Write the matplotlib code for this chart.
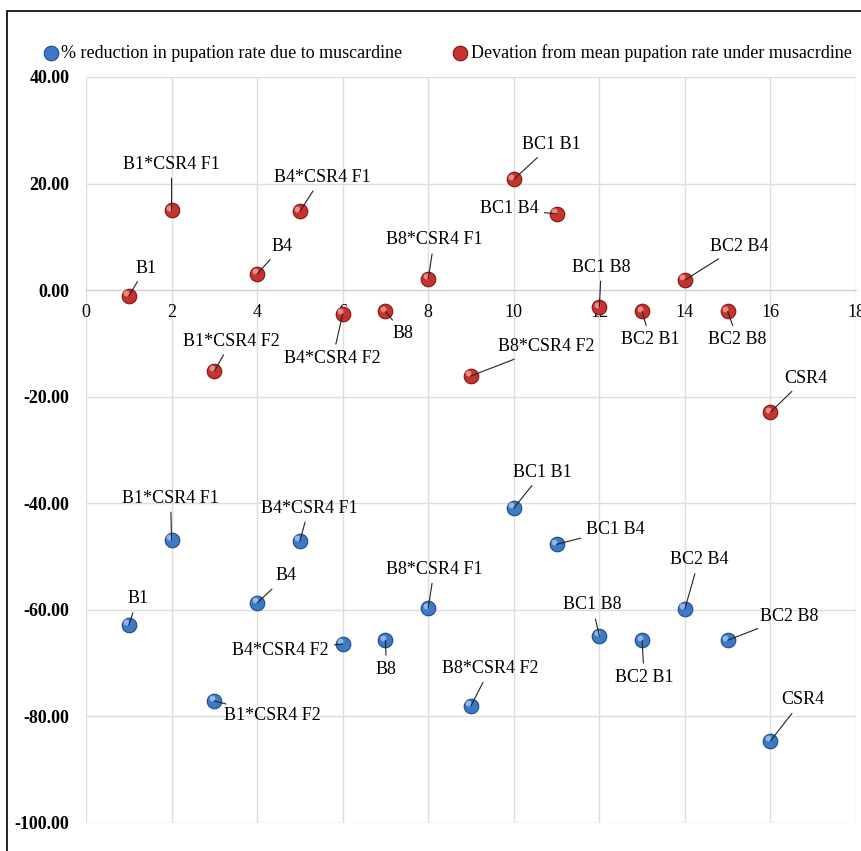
import matplotlib.pyplot as plt
from matplotlib.patches import Rectangle

plt.rcParams['font.family'] = ['Liberation Serif', 'DejaVu Serif']

# data
names = ['B1', 'B1*CSR4 F1', 'B1*CSR4 F2', 'B4', 'B4*CSR4 F1', 'B4*CSR4 F2',
         'B8', 'B8*CSR4 F1', 'B8*CSR4 F2', 'BC1 B1', 'BC1 B4', 'BC1 B8',
         'BC2 B1', 'BC2 B4', 'BC2 B8', 'CSR4']
xs = list(range(1, 17))
reduction = [-62.8, -46.9, -77.1, -58.7, -47.1, -66.4, -65.7, -59.7,
             -78.0, -40.9, -47.7, -64.9, -65.7, -59.8, -65.7, -84.6]
deviation = [-1.1, 15.0, -15.2, 3.0, 14.8, -4.5, -4.0, 2.1,
             -16.1, 20.8, 14.3, -3.2, -4.0, 1.9, -4.0, -22.9]
legend_labels = ['% reduction in pupation rate due to muscardine',
                 'Devation from mean pupation rate under musacrdine']

# label offsets (pixels, +x right, +y down)
red_off = [(17, -28), (0, -46), (17, -30), (25, -28), (22, -34), (-10, 44),
           (18, 22), (6, -39), (75, -29), (38, -35), (-47, -5), (2, -40),
           (8, 28), (54, -34), (10, 28), (35, -34)]
blue_off = [(9, -26), (-1, -42), (58, 15), (29, -27), (9, -33), (-62, 7),
            (1, 29), (6, -39), (19, -37), (29, -36), (59, -15), (-7, -31),
            (2, 37), (14, -49), (62, -24), (32, -41)]

fig = plt.figure(figsize=(8.62, 8.51), dpi=100)
ax = fig.add_axes([86 / 862, 1 - 823 / 851, 770 / 862, 746 / 851])

blue, blue_edge = '#3d79c6', '#1d4b86'
red, red_edge = '#c8322d', '#7c1815'

ax.scatter(xs, reduction, s=110, color=blue, edgecolor=blue_edge, lw=0.8,
           zorder=3, label=legend_labels[0])
ax.scatter(xs, deviation, s=110, color=red, edgecolor=red_edge, lw=0.8,
           zorder=3, label=legend_labels[1])
# small highlight for a glossy look
ax.scatter([x - 0.06 for x in xs], [v + 0.5 for v in reduction], s=18,
           color='#a9c8ef', lw=0, zorder=4, alpha=0.8)
ax.scatter([x - 0.06 for x in xs], [v + 0.5 for v in deviation], s=18,
           color='#f0a29e', lw=0, zorder=4, alpha=0.8)

for vals, offs in [(deviation, red_off), (reduction, blue_off)]:
    for x, v, name, (dx, dy) in zip(xs, vals, names, offs):
        ax.annotate(name, xy=(x, v), xytext=(dx * 0.72, -dy * 0.72),
                    textcoords='offset points', ha='center', va='center',
                    fontsize=13, zorder=5,
                    arrowprops=dict(arrowstyle='-', color='#222222', lw=0.8,
                                    shrinkA=2, shrinkB=0))

ax.set_xlim(0, 18)
ax.set_ylim(-100, 40)
ax.set_xticks(range(0, 19, 2))
ax.set_yticks(range(-100, 41, 20))
ax.set_yticklabels(['%.2f' % t for t in range(-100, 41, 20)],
                   fontweight='bold')
ax.grid(True, color='#dddddd', lw=1)
ax.set_axisbelow(True)
for s in ['top', 'right', 'left']:
    ax.spines[s].set_visible(False)
ax.spines['bottom'].set_position(('data', 0))
ax.spines['bottom'].set_color('#d0d0d0')
ax.tick_params(axis='both', length=0, labelsize=13)
ax.tick_params(axis='x', pad=10)
ax.tick_params(axis='y', pad=12)

fig.legend(loc='center', bbox_to_anchor=(0.513, 0.938), ncol=2,
           frameon=False, fontsize=13, handletextpad=-0.4, columnspacing=2.2,
           markerscale=1.0)

fig.patches.append(Rectangle((7 / 862, -0.1), 1.2, 1.1 - 11 / 851,
                             transform=fig.transFigure, fill=False,
                             edgecolor='black', lw=1.2))

fig.savefig('out.png', dpi=100)
